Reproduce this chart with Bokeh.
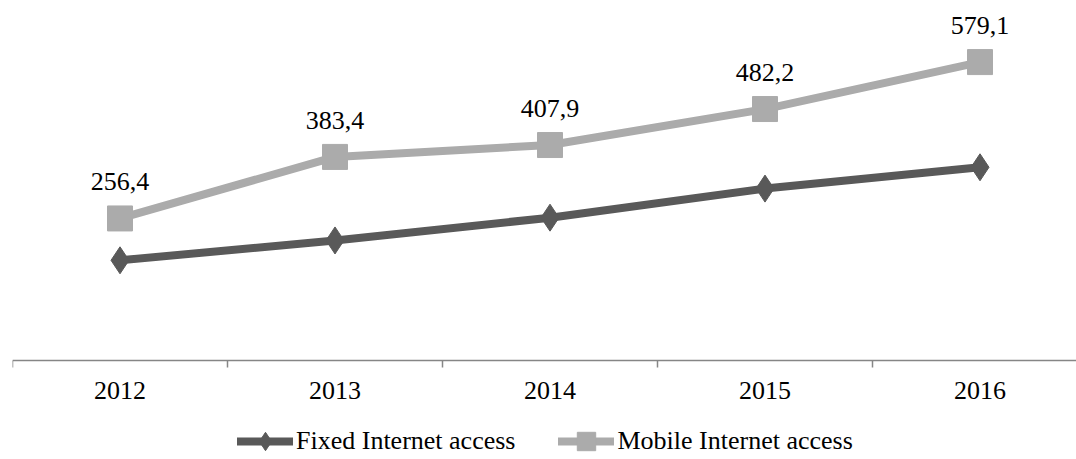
from bokeh.plotting import figure
from bokeh.models import Range1d, FixedTicker, LinearAxis, Legend, LegendItem, ColumnDataSource, LabelSet
from bokeh.core.properties import value
from bokeh.embed import file_html
from bokeh.resources import INLINE

# Data
years = ["2012", "2013", "2014", "2015", "2016"]
fixed_access = [170, 211, 258, 318, 362]
mobile_access = [256.4, 383.4, 407.9, 482.2, 579.1]

x_idx = list(range(len(years)))
mobile_labels = [f"{v:.1f}".replace(".", ",") for v in mobile_access]

FONT = "Liberation Serif"
FIXED_COLOR = "#595959"
MOBILE_COLOR = "#ababab"
AXIS_COLOR = "#868686"

p = figure(
    width=1076, height=459,
    output_backend="svg", toolbar_location=None,
    x_range=Range1d(-0.5, -0.5 + 1064 / 215),
    y_range=Range1d(-241.1, 706.2),
    x_axis_location=None, y_axis_location=None,
    min_border_left=12, min_border_right=0,
    min_border_top=0, min_border_bottom=0,
    outline_line_color=None,
)
p.xgrid.visible = False
p.ygrid.visible = False

# Category axis sitting at the bottom of the plotting area
xaxis = LinearAxis(
    fixed_location=-36.8,
    ticker=FixedTicker(ticks=x_idx, minor_ticks=[i - 0.5 for i in range(len(years) + 1)]),
    major_label_overrides={i: y for i, y in zip(x_idx, years)},
    axis_line_color=AXIS_COLOR, axis_line_width=1.5,
    major_tick_out=0, major_tick_in=0,
    minor_tick_out=7, minor_tick_in=0,
    minor_tick_line_color=AXIS_COLOR, minor_tick_line_width=1.5,
    major_label_text_font=FONT, major_label_text_font_size="26px",
    major_label_text_color="black", major_label_standoff=14,
)
p.add_layout(xaxis, "below")

# Series
fixed_line = p.line(x_idx, fixed_access, line_color=FIXED_COLOR, line_width=8,
                    line_cap="round", line_join="round")
fixed_pts = p.scatter(x_idx, fixed_access, marker="diamond", size=27,
                      fill_color=FIXED_COLOR, line_color=FIXED_COLOR)

mobile_line = p.line(x_idx, mobile_access, line_color=MOBILE_COLOR, line_width=8,
                     line_cap="round", line_join="round")
mobile_pts = p.scatter(x_idx, mobile_access, marker="square", size=25,
                       fill_color=MOBILE_COLOR, line_color=MOBILE_COLOR)

# Value labels above the mobile series
label_src = ColumnDataSource(dict(x=x_idx, y=mobile_access, text=mobile_labels))
labels = LabelSet(x="x", y="y", text="text", source=label_src,
                  text_font=value(FONT), text_font_size=value("26px"),
                  text_color="black", text_align="center",
                  text_baseline="alphabetic", y_offset=28)
p.add_layout(labels)

legend = Legend(
    items=[
        LegendItem(label="Fixed Internet access", renderers=[fixed_line, fixed_pts]),
        LegendItem(label="Mobile Internet access", renderers=[mobile_line, mobile_pts]),
    ],
    orientation="horizontal",
    location=(225, -5),
    glyph_width=56, glyph_height=46,
    label_standoff=3, spacing=43,
    padding=0, margin=0,
    border_line_color=None, background_fill_alpha=0,
    label_text_font=FONT, label_text_font_size="26px", label_text_color="black",
)
p.add_layout(legend, "center")

open("out.html", "w").write(file_html(p, INLINE))
